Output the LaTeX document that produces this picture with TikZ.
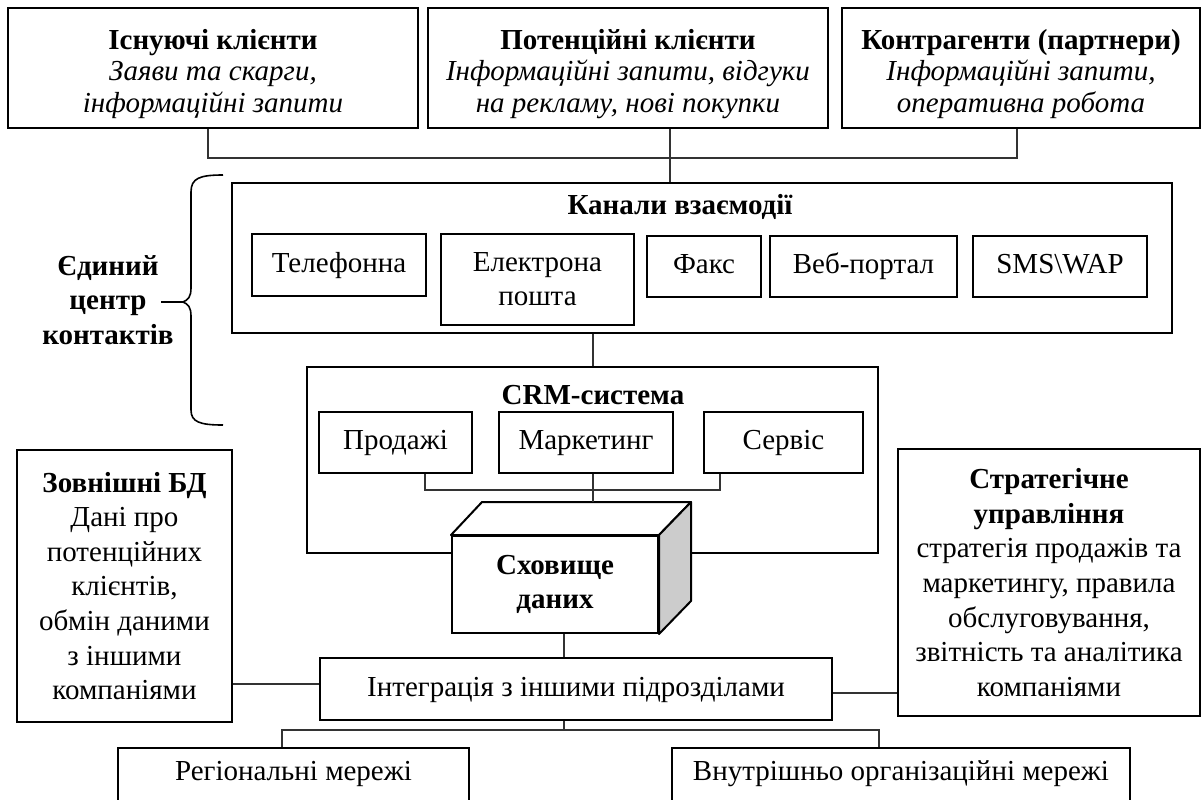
\documentclass[tikz,border=0pt]{standalone}
\usepackage{fontspec}
\setmainfont{Liberation Serif}
\usetikzlibrary{calc}
\begin{document}
\begin{tikzpicture}[x=0.5pt,y=-0.5pt,
  every node/.style={font=\fontsize{14.5}{17.3}\selectfont, inner sep=1pt},
  box/.style={draw=black, line width=1pt, fill=white, align=center},
  sbox/.style={box, text height=10pt, text depth=3pt},
  conn/.style={draw=black!80, line width=0.6pt},
  bold/.style={font=\bfseries\fontsize{14.5}{17.3}\selectfont, align=center},
  topbox/.style={box, minimum height=60pt, font=\fontsize{14.5}{15.8}\selectfont}]
\clip (0,0) rectangle (1203,799);
\fill[white] (0,0) rectangle (1203,799);

% top boxes
\node[topbox, minimum width=205pt] (t1) at (213,68) {\rule{0pt}{16pt}\textbf{Існуючі клієнти}\\\textit{Заяви та скарги,}\\\textit{інформаційні запити}};
\node[topbox, minimum width=200pt] (t2) at (628,68) {\rule{0pt}{16pt}\textbf{Потенційні клієнти}\\\textit{Інформаційні запити, відгуки}\\\textit{на рекламу, нові покупки}};
\node[topbox, minimum width=179pt] (t3) at (1021,68) {\rule{0pt}{16pt}\textbf{Контрагенти (партнери)}\\\textit{Інформаційні запити,}\\\textit{оперативна робота}};

% channels
\node[box, minimum width=470pt, minimum height=75pt] (ch) at (702,258) {};
\node[bold] (chT) at (680,207) {Канали взаємодії};
\node[sbox, minimum width=87pt, minimum height=31pt] (tel) at (339,265) {Телефонна};
\node[box, minimum width=96.5pt, minimum height=45.5pt] (em) at (537.5,279) {Електрона\\пошта};
\node[sbox, minimum width=57pt, minimum height=30.5pt] (fx) at (704,266.5) {Факс};
\node[sbox, minimum width=93.5pt, minimum height=30.5pt] (web) at (863.5,266.5) {Веб-портал};
\node[sbox, minimum width=87pt, minimum height=30.5pt] (sms) at (1060,266.5) {SMS\textbackslash WAP};

% brace and label
\node[bold] (lbl) at (108,300) {Єдиний\\центр\\контактів};
\coordinate (bt) at (183,302);
\coordinate (bd) at (161,302);
\draw[line width=0.8pt] (223,175) .. controls (200,175) and (191,178) .. (191,192) -- (191,288) .. controls (191,297) and (188,300) .. (bt) .. controls (188,304) and (191,307) .. (191,316) -- (191,410) .. controls (191,422) and (200,425) .. (223,425);
\draw[line width=1pt] (bd) -- (bt);

% top connectors
\coordinate (j1) at (208,158);
\coordinate (j3) at (1017,158);
\coordinate (x2) at (670,0);
\coordinate (xm) at (593,0);
\draw[conn] (t1.south -| j1) -- (j1) -- (j3) -- (t3.south -| j3);
\draw[conn] (t2.south -| x2) -- (ch.north -| x2);

% CRM
\node[box, minimum width=285.5pt, minimum height=93pt] (crm) at (592.5,460) {};
\node[bold] (crmT) at (593,395) {CRM-система};
\node[sbox, minimum width=76.5pt, minimum height=30.5pt] (pr) at (395.5,442.5) {Продажі};
\node[sbox, minimum width=87pt, minimum height=30.5pt] (mk) at (586,442.5) {Маркетинг};
\node[sbox, minimum width=79.5pt, minimum height=30.5pt] (sv) at (783.5,442.5) {Сервіс};
\draw[conn] (ch.south -| xm) -- (crm.north -| xm);
\coordinate (b1) at (425,490);
\coordinate (b2) at (720,490);
\draw[conn] (pr.south -| b1) -- (b1) -- (b2) -- (sv.south -| b2);

% data warehouse cube
\node[box, minimum width=103pt, minimum height=48.5pt, font=\bfseries\fontsize{14.5}{17}\selectfont] (dw) at (555,584.5) {Сховище\\даних};
\coordinate (cbl) at ($(dw.north west)+(31,-33)$);
\coordinate (cbr) at ($(dw.north east)+(32,-33)$);
\draw[line width=1pt, fill=white, line join=round] (dw.north west) -- (cbl) -- (cbr) -- (dw.north east) -- cycle;
\draw[line width=1pt, fill=black!20, line join=round] (dw.north east) -- (cbr) -- ($(dw.south east)+(32,-33)$) -- (dw.south east) -- cycle;
\draw[conn] (mk.south -| xm) -- (cbl -| xm);

% side boxes
\node[box, minimum width=107.5pt, minimum height=136pt] (ext) at (124.5,586) {\textbf{Зовнішні БД}\\Дані про\\потенційних\\клієнтів,\\обмін даними\\з іншими\\компаніями};
\node[box, minimum width=151pt, minimum height=133.5pt] (st) at (1049,582.5) {\textbf{Стратегічне}\\\textbf{управління}\\стратегія продажів та\\маркетингу, правила\\обслуговування,\\звітність та аналітика\\компаніями};

% integration
\node[sbox, minimum width=256pt, minimum height=31pt] (int) at (576,689) {Інтеграція з іншими підрозділами};
\coordinate (xi) at (564,0);
\draw[conn] (dw.south -| xi) -- (int.north -| xi);
\coordinate (yl) at (0,684);
\coordinate (yr) at (0,693);
\draw[conn] (ext.east |- yl) -- (int.west |- yl);
\draw[conn] (int.east |- yr) -- (st.west |- yr);

% bottom boxes
\node[box, minimum width=175.5pt, minimum height=31pt, text depth=8pt] (reg) at (293.5,779) {Регіональні мережі};
\node[box, minimum width=229pt, minimum height=31pt, text depth=8pt] (inn) at (901,779) {Внутрішньо організаційні мережі};
\coordinate (h0) at (564,730);
\coordinate (hl) at (282,730);
\coordinate (hr) at (879,730);
\draw[conn] (int.south -| h0) -- (h0);
\draw[conn] (reg.north -| hl) -- (hl) -- (hr) -- (inn.north -| hr);
\end{tikzpicture}
\end{document}
